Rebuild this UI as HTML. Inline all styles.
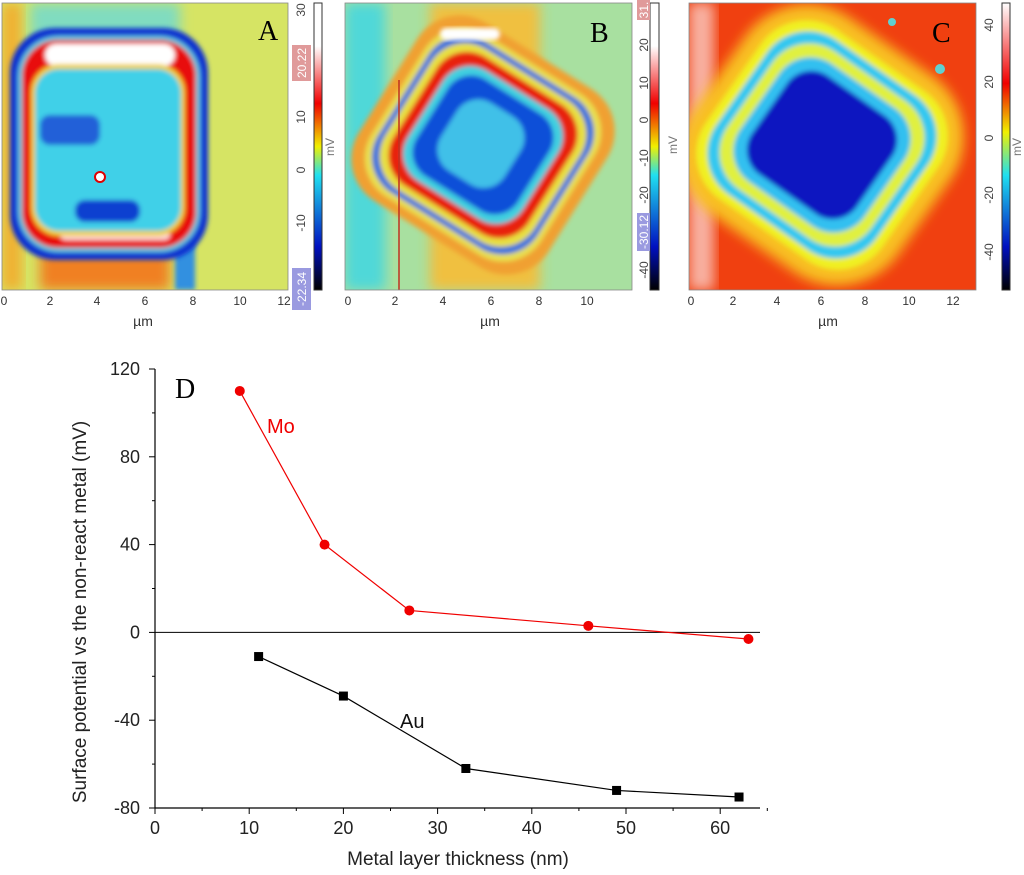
<!DOCTYPE html>
<html><head><meta charset="utf-8"><style>
body{margin:0;background:#fff;width:1024px;height:875px;overflow:hidden}
svg{display:block;font-family:"Liberation Sans",sans-serif}
</style></head><body>
<svg id="s" width="1024" height="875" viewBox="0 0 1024 875">
<defs>
<filter id="b3" x="-20%" y="-20%" width="140%" height="140%"><feGaussianBlur stdDeviation="2.5"/></filter>
<filter id="b6" x="-20%" y="-20%" width="140%" height="140%"><feGaussianBlur stdDeviation="6"/></filter>
<clipPath id="cA"><rect x="2" y="3" width="286" height="287"/></clipPath>
<clipPath id="cB"><rect x="345" y="3" width="287" height="287"/></clipPath>
<clipPath id="cC"><rect x="689" y="3" width="287" height="287"/></clipPath>
<linearGradient id="cbA" x1="0" y1="1" x2="0" y2="0"><stop offset="0" stop-color="#000"/><stop offset="0.15" stop-color="#0010c0"/><stop offset="0.4" stop-color="#20e0f0"/><stop offset="0.5" stop-color="#f0f000"/><stop offset="0.65" stop-color="#f00000"/><stop offset="0.85" stop-color="#fff"/><stop offset="1" stop-color="#fff"/></linearGradient>
<linearGradient id="cbC" x1="0" y1="1" x2="0" y2="0"><stop offset="0" stop-color="#000"/><stop offset="0.15" stop-color="#0010c0"/><stop offset="0.4" stop-color="#20e0f0"/><stop offset="0.55" stop-color="#f0f000"/><stop offset="0.72" stop-color="#f00000"/><stop offset="1" stop-color="#fff"/></linearGradient>
</defs>

<!-- Panel A -->
<g clip-path="url(#cA)">
<rect x="2" y="3" width="286" height="287" fill="#d6e464"/>
<rect x="2" y="3" width="20" height="287" fill="#f0b030" filter="url(#b6)"/>
<rect x="40" y="250" width="130" height="40" fill="#f08020" filter="url(#b6)"/>
<rect x="30" y="3" width="150" height="40" fill="#80dcc0" filter="url(#b6)"/>
<rect x="175" y="240" width="20" height="50" fill="#3090e0" filter="url(#b3)"/>
<g filter="url(#b3)">
<rect x="10" y="28" width="198" height="232" rx="45" fill="#1030d0"/>
<rect x="18" y="36" width="182" height="216" rx="40" fill="#60d0e0"/>
<rect x="22" y="40" width="174" height="208" rx="36" fill="#e81010"/>
<rect x="45" y="44" width="130" height="22" rx="11" fill="#ffffff"/>
<rect x="60" y="230" width="110" height="10" rx="5" fill="#ffd8d8"/>
<rect x="31" y="64" width="154" height="172" rx="28" fill="#f0d030"/>
<rect x="35" y="69" width="146" height="162" rx="24" fill="#40d0e8"/>
<rect x="40" y="115" width="60" height="30" rx="10" fill="#2060d8"/>
<rect x="75" y="200" width="65" height="22" rx="10" fill="#1040d0"/>
</g>
<circle cx="100" cy="177" r="5" fill="#fff" stroke="#e00000" stroke-width="2"/>
</g>
<rect x="2" y="3" width="286" height="287" fill="none" stroke="#888" stroke-width="0.8"/>
<text x="258" y="40" font-family="Liberation Serif,serif" font-size="28">A</text>
<rect x="314" y="3" width="8" height="287" fill="url(#cbA)" stroke="#333" stroke-width="1"/>
<rect x="292" y="45" width="19" height="36" fill="#e09a9a"/>
<rect x="292" y="268" width="19" height="42" fill="#9a9ae0"/>
<g font-size="12" fill="#444">
<text transform="translate(305,10) rotate(-90)" text-anchor="middle">30</text>
<text transform="translate(306,63) rotate(-90)" text-anchor="middle" fill="#fff">20.22</text>
<text transform="translate(305,117) rotate(-90)" text-anchor="middle">10</text>
<text transform="translate(305,170) rotate(-90)" text-anchor="middle">0</text>
<text transform="translate(305,223) rotate(-90)" text-anchor="middle">-10</text>
<text transform="translate(306,289) rotate(-90)" text-anchor="middle" fill="#fff">-22.34</text>
<text transform="translate(334,147) rotate(-90)" text-anchor="middle" fill="#777">mV</text>
</g>
<g font-size="12" fill="#333" text-anchor="middle">
<text x="4" y="305">0</text><text x="50" y="305">2</text><text x="97" y="305">4</text><text x="145" y="305">6</text><text x="193" y="305">8</text><text x="240" y="305">10</text><text x="284" y="305">12</text>
<text x="143" y="326" font-size="14">µm</text>
</g>

<!-- Panel B -->
<g clip-path="url(#cB)">
<rect x="345" y="3" width="287" height="287" fill="#a8e0a0"/>
<rect x="345" y="3" width="40" height="287" fill="#50d8d8" filter="url(#b6)"/>
<rect x="430" y="3" width="110" height="287" fill="#f0c040" filter="url(#b6)"/>
<g transform="translate(483,145) rotate(32)" filter="url(#b3)">
<rect x="-112" y="-105" width="224" height="210" rx="50" fill="#f0a030"/>
<rect x="-100" y="-95" width="200" height="190" rx="45" fill="#e8e050"/>
<rect x="-94" y="-89" width="188" height="178" rx="42" fill="#3070e0"/>
<rect x="-88" y="-83" width="176" height="166" rx="40" fill="#e8e040"/>
<rect x="-80" y="-76" width="160" height="152" rx="36" fill="#e82010"/>
<rect x="-68" y="-65" width="136" height="130" rx="32" fill="#40d0e0"/>
<rect x="-60" y="-57" width="120" height="114" rx="28" fill="#1050d8"/>
<rect x="-40" y="-40" width="75" height="80" rx="25" fill="#40c0e8"/>
</g>
<rect x="440" y="28" width="60" height="12" rx="6" fill="#fff" filter="url(#b3)"/>
<line x1="399" y1="80" x2="399" y2="290" stroke="#c03020" stroke-width="1.5"/>
</g>
<rect x="345" y="3" width="287" height="287" fill="none" stroke="#888" stroke-width="0.8"/>
<text x="590" y="42" font-family="Liberation Serif,serif" font-size="28">B</text>
<rect x="650" y="3" width="9" height="287" fill="url(#cbA)" stroke="#333" stroke-width="1"/>
<rect x="637" y="0" width="13" height="20" fill="#e09a9a"/>
<rect x="637" y="213" width="13" height="38" fill="#9a9ae0"/>
<g font-size="12" fill="#444">
<text transform="translate(648,10) rotate(-90)" text-anchor="middle" fill="#fff">31.</text>
<text transform="translate(648,45) rotate(-90)" text-anchor="middle">20</text>
<text transform="translate(648,83) rotate(-90)" text-anchor="middle">10</text>
<text transform="translate(648,120) rotate(-90)" text-anchor="middle">0</text>
<text transform="translate(648,158) rotate(-90)" text-anchor="middle">-10</text>
<text transform="translate(648,195) rotate(-90)" text-anchor="middle">-20</text>
<text transform="translate(648,232) rotate(-90)" text-anchor="middle" fill="#fff">-30.12</text>
<text transform="translate(648,270) rotate(-90)" text-anchor="middle">-40</text>
<text transform="translate(677,145) rotate(-90)" text-anchor="middle" fill="#777">mV</text>
</g>
<g font-size="12" fill="#333" text-anchor="middle">
<text x="348" y="305">0</text><text x="395" y="305">2</text><text x="443" y="305">4</text><text x="491" y="305">6</text><text x="539" y="305">8</text><text x="587" y="305">10</text>
<text x="490" y="326" font-size="14">µm</text>
</g>

<!-- Panel C -->
<g clip-path="url(#cC)">
<rect x="689" y="3" width="287" height="287" fill="#f04010"/>
<rect x="689" y="3" width="25" height="287" fill="#f8b0a0" filter="url(#b6)"/>
<g transform="translate(822,145) rotate(35)">
<rect x="-125" y="-120" width="250" height="240" rx="75" fill="#f8c020" filter="url(#b6)"/>
<g filter="url(#b3)">
<rect x="-108" y="-103" width="216" height="206" rx="55" fill="#f0f020"/>
<rect x="-98" y="-94" width="196" height="188" rx="50" fill="#30c8f0"/>
<rect x="-88" y="-84" width="176" height="168" rx="45" fill="#e0f040"/>
<rect x="-76" y="-72" width="152" height="144" rx="38" fill="#30c0f0"/>
<rect x="-64" y="-60" width="128" height="120" rx="30" fill="#0818c0"/>
</g>
</g>
<circle cx="892" cy="22" r="4" fill="#60d0d0"/><circle cx="940" cy="69" r="5" fill="#60d0d0"/>
</g>
<rect x="689" y="3" width="287" height="287" fill="none" stroke="#888" stroke-width="0.8"/>
<text x="932" y="42" font-family="Liberation Serif,serif" font-size="28">C</text>
<rect x="1002" y="3" width="8" height="287" fill="url(#cbC)" stroke="#333" stroke-width="1"/>
<g font-size="12" fill="#444">
<text transform="translate(993,25) rotate(-90)" text-anchor="middle">40</text>
<text transform="translate(993,82) rotate(-90)" text-anchor="middle">20</text>
<text transform="translate(993,138) rotate(-90)" text-anchor="middle">0</text>
<text transform="translate(993,195) rotate(-90)" text-anchor="middle">-20</text>
<text transform="translate(993,252) rotate(-90)" text-anchor="middle">-40</text>
<text transform="translate(1021,147) rotate(-90)" text-anchor="middle" fill="#777">mV</text>
</g>
<g font-size="12" fill="#333" text-anchor="middle">
<text x="691" y="305">0</text><text x="733" y="305">2</text><text x="777" y="305">4</text><text x="821" y="305">6</text><text x="865" y="305">8</text><text x="909" y="305">10</text><text x="953" y="305">12</text>
<text x="828" y="326" font-size="14">µm</text>
</g>

<!-- Panel D -->
<g id="chart"></g>
</svg>
<script>
const moX=[9,18,27,46,63];
const moY=[110,40,10,3,-3];
const auX=[11,20,33,49,62];
const auY=[-11,-29,-62,-72,-75];
const xTicks=[0,10,20,30,40,50,60];
const yTicks=[120,80,40,0,-40,-80];
const NS="http://www.w3.org/2000/svg";
const g=document.getElementById('chart');
const X=v=>155+v*9.42;
const Y=v=>632.4-v*2.195;
function mk(t,a,txt){const e=document.createElementNS(NS,t);for(const k in a)e.setAttribute(k,a[k]);if(txt!==undefined)e.textContent=txt;g.appendChild(e);return e;}
let e;
e=mk('line',{x1:155,y1:Y(120),x2:155,y2:Y(-80),stroke:'#000','stroke-width':1.2});

e=mk('line',{x1:155,y1:Y(-80),x2:760,y2:Y(-80),stroke:'#000','stroke-width':1.2});

e=mk('line',{x1:155,y1:Y(0),x2:760,y2:Y(0),stroke:'#000','stroke-width':1});

xTicks.forEach(t=>{
 e=mk('line',{x1:X(t),y1:Y(-80),x2:X(t),y2:Y(-80)+6,stroke:'#000'});
 
 e=mk('line',{x1:X(t+5),y1:Y(-80),x2:X(t+5),y2:Y(-80)+3,stroke:'#000'});
 
 e=mk('text',{x:X(t),y:Y(-80)+26,'font-size':18,'text-anchor':'middle',fill:'#222'},t);
 
});
yTicks.forEach(t=>{
 e=mk('line',{x1:155,y1:Y(t),x2:149,y2:Y(t),stroke:'#000'});
 
 if(t>-80){e=mk('line',{x1:155,y1:Y(t-20),x2:152,y2:Y(t-20),stroke:'#000'});
 }
 e=mk('text',{x:140,y:Y(t)+6,'font-size':18,'text-anchor':'end',fill:'#222'},t);
 
});
e=mk('text',{x:458,y:865,'font-size':19,'text-anchor':'middle',fill:'#222'},'Metal layer thickness (nm)');

e=mk('text',{transform:'translate(86,612) rotate(-90)','font-size':19,'text-anchor':'middle',fill:'#222'},'Surface potential vs  the non-react metal (mV)');

e=mk('text',{x:175,y:398,'font-size':28,'font-family':'Liberation Serif,serif'},'D');

e=mk('polyline',{points:moX.map((x,i)=>X(x)+','+Y(moY[i])).join(' '),fill:'none',stroke:'#f00000','stroke-width':1.2});

moX.forEach((x,i)=>{e=mk('circle',{cx:X(x),cy:Y(moY[i]),r:5,fill:'#f00000'});
 });
e=mk('polyline',{points:auX.map((x,i)=>X(x)+','+Y(auY[i])).join(' '),fill:'none',stroke:'#000','stroke-width':1.2});

auX.forEach((x,i)=>{e=mk('rect',{x:X(x)-4.5,y:Y(auY[i])-4.5,width:9,height:9,fill:'#000'});
 });
e=mk('text',{x:267,y:433,'font-size':20,fill:'#f00000'},'Mo');

e=mk('text',{x:400,y:728,'font-size':20,fill:'#111'},'Au');

</script>
</body></html>
